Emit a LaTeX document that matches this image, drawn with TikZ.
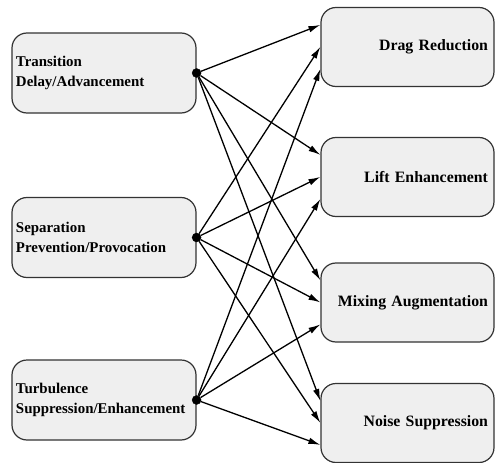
\documentclass[tikz,border=0pt]{standalone}
\usepackage{fontspec}
\setmainfont{Liberation Serif}
\usepackage{tikz}
\usetikzlibrary{arrows.meta,calc}
\definecolor{boxfill}{HTML}{EFEFEF}
\definecolor{boxline}{HTML}{333333}

\begin{document}
\begin{tikzpicture}[x=1pt,y=-1pt,
          every node/.style={font=\fontsize{15.8}{19.5}\selectfont\bfseries},
          cause/.style={draw=boxline,fill=boxfill,rounded corners=15pt,line width=1.2pt,
                        minimum width=184pt,minimum height=80pt,inner xsep=4pt,
                        text width=176pt,align=left,
                        font=\fontsize{14.9}{19.5}\selectfont\bfseries},
          effect/.style={draw=boxline,fill=boxfill,rounded corners=15pt,line width=1.2pt,
                         minimum width=173pt,minimum height=79pt,inner xsep=6pt,
                         text width=161pt,align=right},
          dot/.style={circle,fill=black,draw=black,inner sep=0pt,minimum size=9pt},
          arr/.style={-{Latex[length=12pt,width=6.5pt]},line width=1.3pt},
      ]
        \useasboundingbox (0,0) rectangle (496,463);

        % control goals
        \node[cause] (tr) at (104,73) {Transition\\Delay/Advancement};
        \node[cause] (sp) at (104,237.5) {Separation\\Prevention/Provocation};
        \node[cause] (tu) at (104,400) {Turbulence\\Suppression/Enhancement};

        % engineering benefits
        \node[effect] (dr) at (407.5,47) {Drag Reduction};
        \node[effect] (le) at (407.5,177) {Lift Enhancement};
        \node[effect] (ma) at (407.5,302.5) {Mixing Augmentation};
        \node[effect] (ns) at (407.5,423) {Noise Suppression};

        \node[dot] (d1) at (tr.east) {};
        \node[dot] (d2) at (sp.east) {};
        \node[dot] (d3) at (tu.east) {};

        \foreach \t in {dr,le,ma,ns} {
          \coordinate (\t-1) at ($(\t.north west)+(0,18)$);
          \coordinate (\t-2) at ($(\t.north west)+(0,40)$);
          \coordinate (\t-3) at ($(\t.north west)+(0,62)$);
        }

        \foreach \s in {1,2,3}
          \foreach \t in {dr,le,ma,ns}
            \draw[arr] (d\s) -- (\t-\s);
      \end{tikzpicture}
\end{document}
